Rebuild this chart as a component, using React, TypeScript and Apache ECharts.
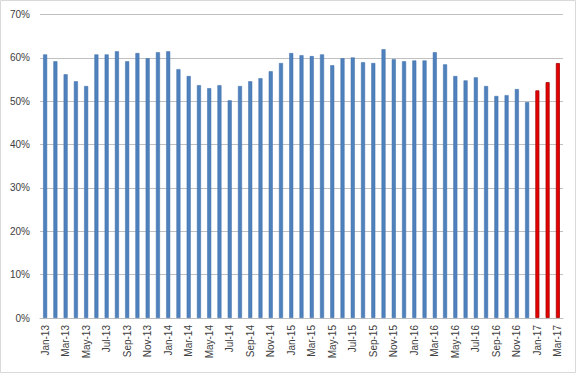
import React, { useEffect, useRef } from "react";
import * as echarts from "echarts";

const categories = [
  "Jan-13","Feb-13","Mar-13","Apr-13","May-13","Jun-13","Jul-13","Aug-13","Sep-13","Oct-13","Nov-13","Dec-13",
  "Jan-14","Feb-14","Mar-14","Apr-14","May-14","Jun-14","Jul-14","Aug-14","Sep-14","Oct-14","Nov-14","Dec-14",
  "Jan-15","Feb-15","Mar-15","Apr-15","May-15","Jun-15","Jul-15","Aug-15","Sep-15","Oct-15","Nov-15","Dec-15",
  "Jan-16","Feb-16","Mar-16","Apr-16","May-16","Jun-16","Jul-16","Aug-16","Sep-16","Oct-16","Nov-16","Dec-16",
  "Jan-17","Feb-17","Mar-17",
];

const values = [
  60.8, 59.2, 56.2, 54.6, 53.5, 60.8, 60.8, 61.5, 59.2, 61.1, 59.9, 61.3,
  61.5, 57.4, 55.8, 53.7, 53.0, 53.7, 50.2, 53.5, 54.6, 55.3, 56.9, 58.8,
  61.1, 60.6, 60.4, 60.8, 58.3, 59.9, 60.1, 59.0, 58.8, 62.0, 59.7, 59.2,
  59.4, 59.4, 61.3, 58.5, 55.8, 54.8, 55.5, 53.5, 51.2, 51.4, 52.8, 49.8,
  52.5, 54.4, 58.8,
];

const highlightFrom = "Jan-17";

export default function App() {
  const ref = useRef<HTMLDivElement>(null);
  useEffect(() => {
    if (!ref.current) return;
    const chart = echarts.init(ref.current, undefined, { renderer: "svg" });
    const hi = categories.indexOf(highlightFrom);
    chart.setOption({
      animation: false,
      backgroundColor: "#ffffff",
      textStyle: { fontFamily: "Liberation Sans, Arial, sans-serif" },
      grid: { left: 40, right: 13, top: 14.5, bottom: 55, containLabel: false },
      graphic: [
        {
          type: "rect",
          shape: { x: 0.5, y: 0.5, width: 575, height: 372 },
          style: { fill: "none", stroke: "#D9D9D9", lineWidth: 1 },
          silent: true,
        },
      ],
      xAxis: {
        type: "category",
        data: categories,
        axisLine: { show: true, lineStyle: { color: "#BFBFBF", width: 1 } },
        axisTick: { show: false },
        axisLabel: {
          interval: 1,
          rotate: 90,
          fontSize: 10,
          color: "#404040",
          margin: 7,
        },
      },
      yAxis: {
        type: "value",
        min: 0,
        max: 70,
        interval: 10,
        axisLine: { show: false },
        axisTick: { show: false },
        splitLine: { lineStyle: { color: "#C0C0C0", width: 1 } },
        axisLabel: {
          formatter: (v: number) => `${v}%`,
          fontSize: 10,
          color: "#404040",
          margin: 10,
        },
      },
      series: [
        {
          type: "bar",
          barWidth: 4,
          data: values.map((v, i) =>
            i >= hi
              ? { value: v, itemStyle: { color: "#E80000", borderColor: "#A00000", borderWidth: 0.8 } }
              : { value: v, itemStyle: { color: "#4F81BD", borderColor: "#3E6FA8", borderWidth: 0.5 } }
          ),
        },
      ],
    });
    return () => chart.dispose();
  }, []);
  return (
    <div
      ref={ref}
      style={{ position: "fixed", left: 0, top: 0, width: 576, height: 373 }}
    />
  );
}
